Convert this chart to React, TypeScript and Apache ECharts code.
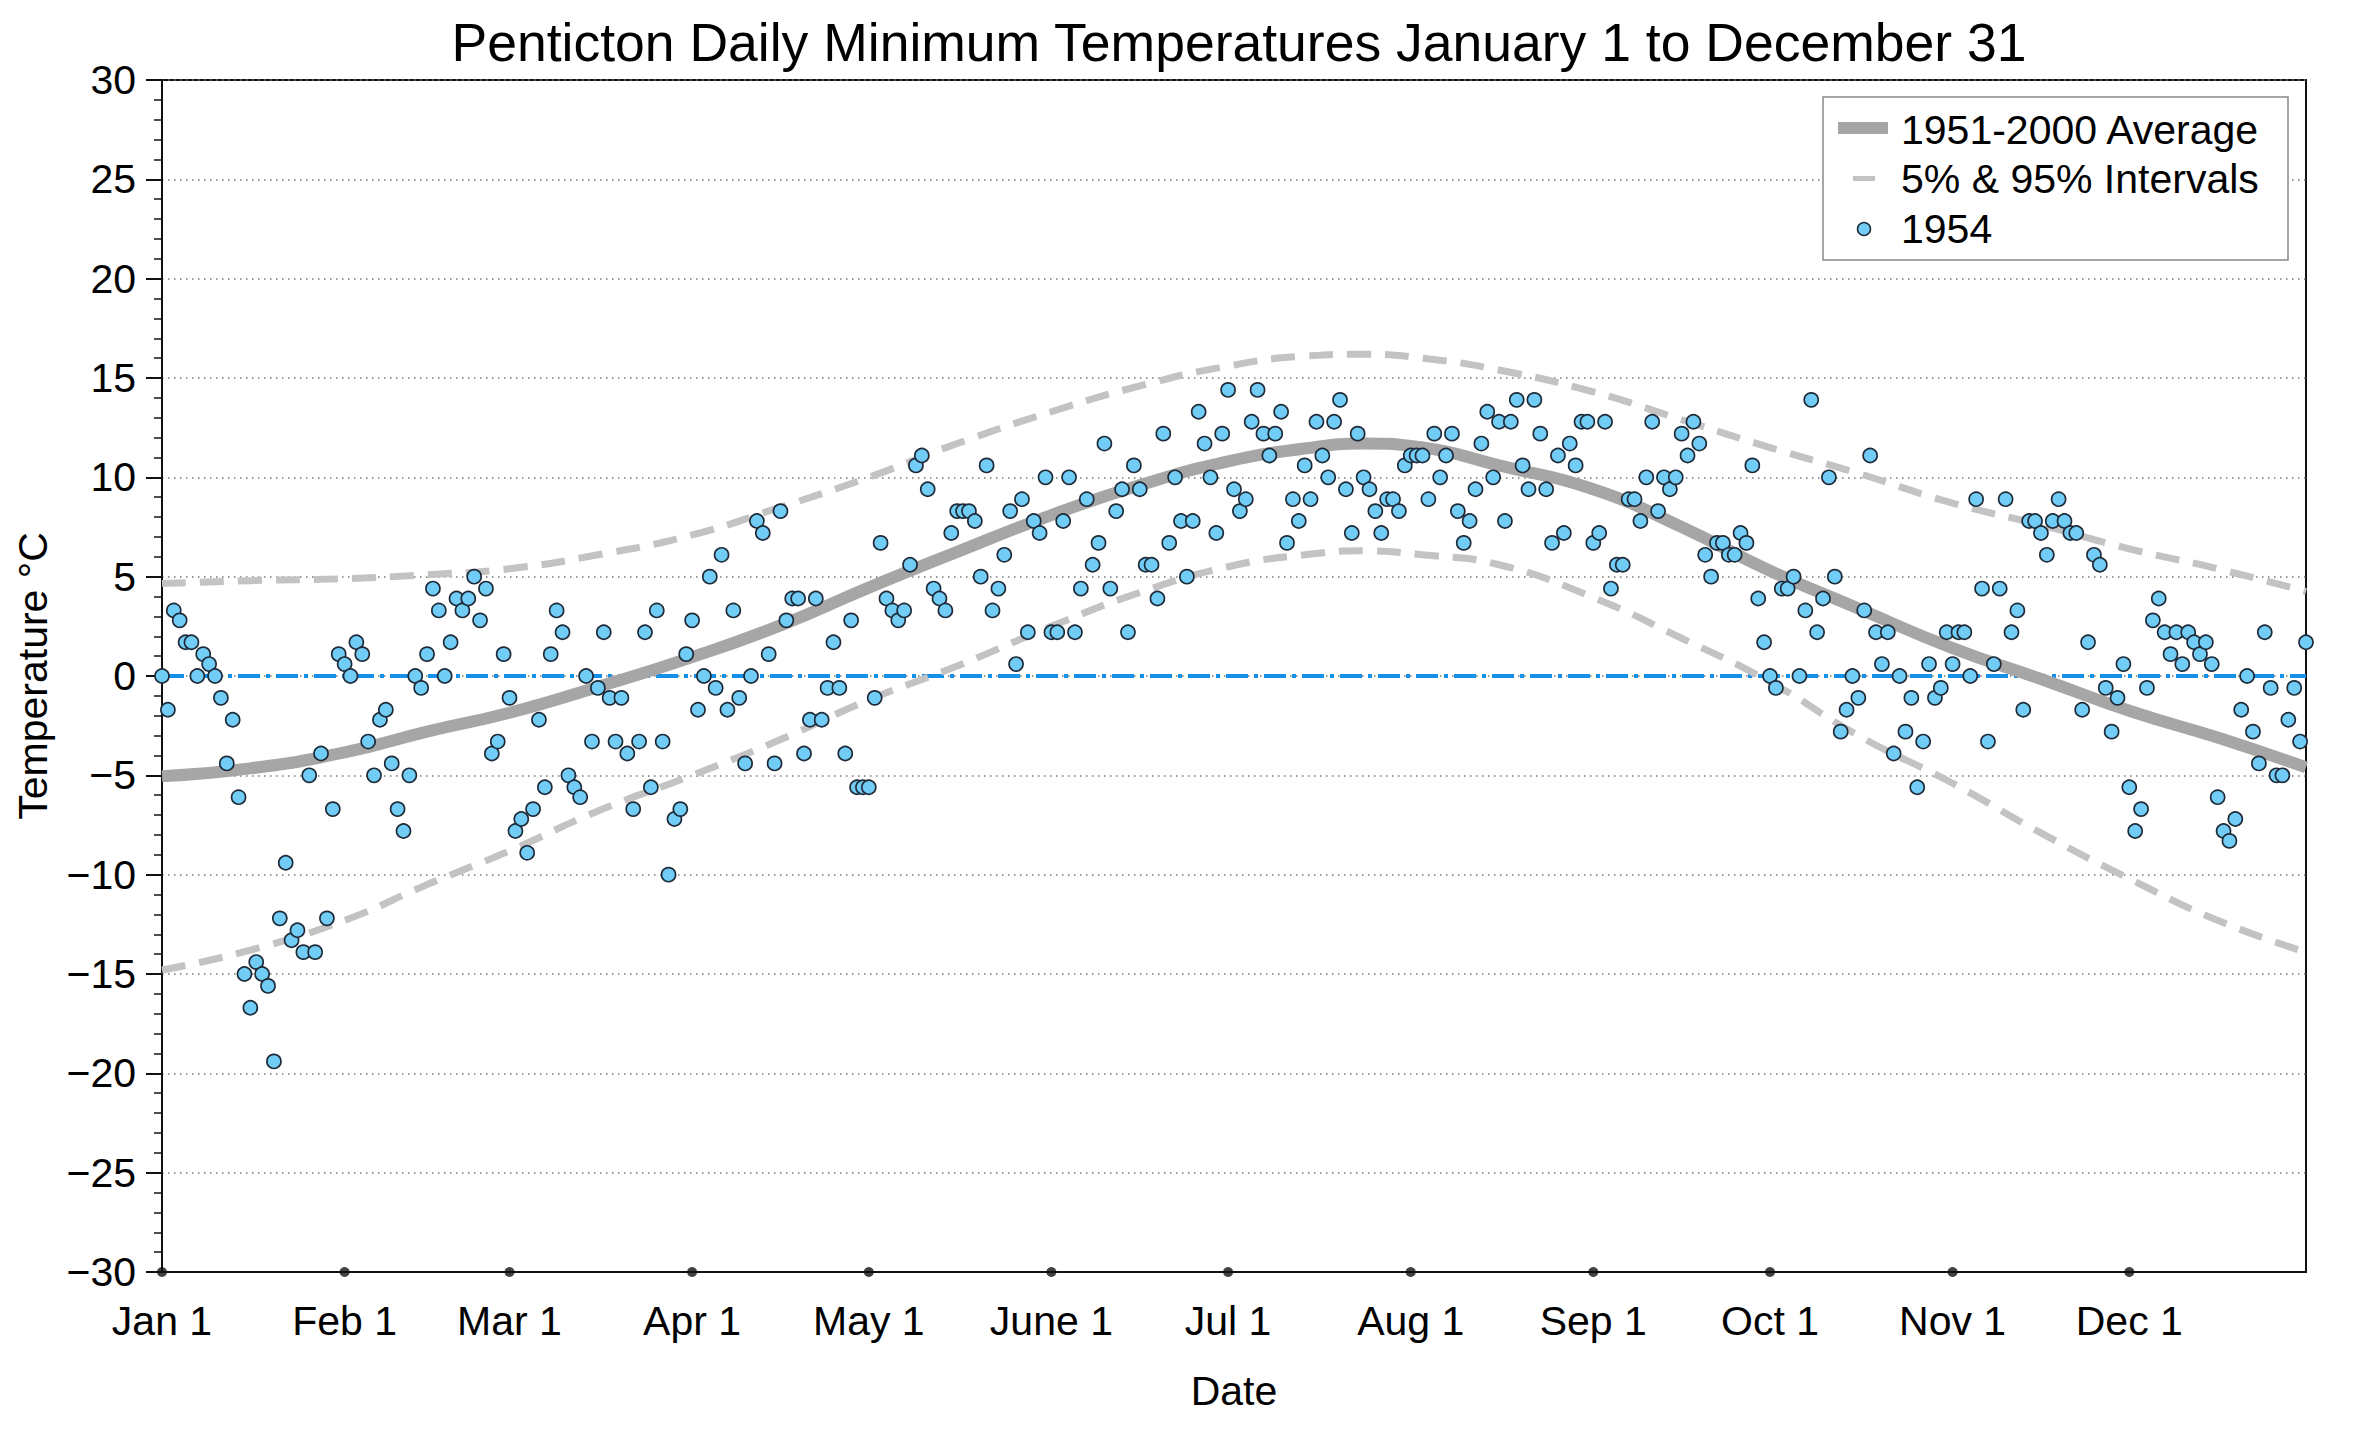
import React, { useEffect, useRef } from "react";
import * as echarts from "echarts";

// 1954 daily minimum temperatures (°C), one value per day, by month
const jan = [0, -1.7, 3.3, 2.8, 1.7, 1.7, 0, 1.1, 0.6, 0, -1.1, -4.4, -2.2, -6.1, -15, -16.7, -14.4, -15, -15.6, -19.4, -12.2, -9.4, -13.3, -12.8, -13.9, -5, -13.9, -3.9, -12.2, -6.7, 1.1];
const feb = [0.6, 0, 1.7, 1.1, -3.3, -5, -2.2, -1.7, -4.4, -6.7, -7.8, -5, 0, -0.6, 1.1, 4.4, 3.3, 0, 1.7, 3.9, 3.3, 3.9, 5.0, 2.8, 4.4, -3.9, -3.3, 1.1];
const mar = [-1.1, -7.8, -7.2, -8.9, -6.7, -2.2, -5.6, 1.1, 3.3, 2.2, -5, -5.6, -6.1, 0, -3.3, -0.6, 2.2, -1.1, -3.3, -1.1, -3.9, -6.7, -3.3, 2.2, -5.6, 3.3, -3.3, -10, -7.2, -6.7, 1.1];
const apr = [2.8, -1.7, 0, 5.0, -0.6, 6.1, -1.7, 3.3, -1.1, -4.4, 0, 7.8, 7.2, 1.1, -4.4, 8.3, 2.8, 3.9, 3.9, -3.9, -2.2, 3.9, -2.2, -0.6, 1.7, -0.6, -3.9, 2.8, -5.6, -5.6];
const may = [-5.6, -1.1, 6.7, 3.9, 3.3, 2.8, 3.3, 5.6, 10.6, 11.1, 9.4, 4.4, 3.9, 3.3, 7.2, 8.3, 8.3, 8.3, 7.8, 5.0, 10.6, 3.3, 4.4, 6.1, 8.3, 0.6, 8.9, 2.2, 7.8, 7.2, 10.0];
const jun = [2.2, 2.2, 7.8, 10.0, 2.2, 4.4, 8.9, 5.6, 6.7, 11.7, 4.4, 8.3, 9.4, 2.2, 10.6, 9.4, 5.6, 5.6, 3.9, 12.2, 6.7, 10.0, 7.8, 5.0, 7.8, 13.3, 11.7, 10.0, 7.2, 12.2];
const jul = [14.4, 9.4, 8.3, 8.9, 12.8, 14.4, 12.2, 11.1, 12.2, 13.3, 6.7, 8.9, 7.8, 10.6, 8.9, 12.8, 11.1, 10.0, 12.8, 13.9, 9.4, 7.2, 12.2, 10.0, 9.4, 8.3, 7.2, 8.9, 8.9, 8.3, 10.6];
const aug = [11.1, 11.1, 11.1, 8.9, 12.2, 10.0, 11.1, 12.2, 8.3, 6.7, 7.8, 9.4, 11.7, 13.3, 10.0, 12.8, 7.8, 12.8, 13.9, 10.6, 9.4, 13.9, 12.2, 9.4, 6.7, 11.1, 7.2, 11.7, 10.6, 12.8, 12.8];
const sep = [6.7, 7.2, 12.8, 4.4, 5.6, 5.6, 8.9, 8.9, 7.8, 10.0, 12.8, 8.3, 10.0, 9.4, 10.0, 12.2, 11.1, 12.8, 11.7, 6.1, 5.0, 6.7, 6.7, 6.1, 6.1, 7.2, 6.7, 10.6, 3.9, 1.7];
const oct = [0, -0.6, 4.4, 4.4, 5.0, 0, 3.3, 13.9, 2.2, 3.9, 10.0, 5.0, -2.8, -1.7, 0, -1.1, 3.3, 11.1, 2.2, 0.6, 2.2, -3.9, 0, -2.8, -1.1, -5.6, -3.3, 0.6, -1.1, -0.6, 2.2];
const nov = [0.6, 2.2, 2.2, 0, 8.9, 4.4, -3.3, 0.6, 4.4, 8.9, 2.2, 3.3, -1.7, 7.8, 7.8, 7.2, 6.1, 7.8, 8.9, 7.8, 7.2, 7.2, -1.7, 1.7, 6.1, 5.6, -0.6, -2.8, -1.1, 0.6];
const dec = [-5.6, -7.8, -6.7, -0.6, 2.8, 3.9, 2.2, 1.1, 2.2, 0.6, 2.2, 1.7, 1.1, 1.7, 0.6, -6.1, -7.8, -8.3, -7.2, -1.7, 0, -2.8, -4.4, 2.2, -0.6, -5, -5, -2.2, -0.6, -3.3, 1.7];

// 1951-2000 climatology, sampled about twice a month (day of year, 0 = Jan 1)
const curveDays = [0, 15, 31, 45, 59, 74, 90, 105, 120, 135, 151, 166, 181, 194, 204, 214, 227, 243, 258, 273, 288, 304, 319, 334, 349, 364];
const avgCurve = [-5.05, -4.65, -3.85, -2.8, -1.85, -0.55, 0.95, 2.55, 4.45, 6.25, 8.1, 9.6, 10.8, 11.45, 11.7, 11.5, 10.6, 9.4, 7.5, 5.3, 3.4, 1.4, -0.15, -1.75, -3.1, -4.6];
const p95Curve = [4.65, 4.8, 4.9, 5.1, 5.4, 6.1, 7.1, 8.5, 10.0, 11.7, 13.3, 14.6, 15.6, 16.1, 16.2, 16.0, 15.4, 14.3, 12.9, 11.5, 10.2, 8.7, 7.6, 6.4, 5.4, 4.25];
const p05Curve = [-14.8, -13.8, -12.3, -10.5, -8.8, -6.8, -5.0, -3.2, -1.2, 0.5, 2.5, 4.2, 5.5, 6.1, 6.3, 6.1, 5.6, 3.95, 1.9, -0.3, -3.0, -5.4, -7.9, -10.2, -12.3, -13.9];

const monthLabels = ["Jan 1", "Feb 1", "Mar 1", "Apr 1", "May 1", "June 1", "Jul 1", "Aug 1", "Sep 1", "Oct 1", "Nov 1", "Dec 1"];
const monthDays = [0, 31, 59, 90, 120, 151, 181, 212, 243, 273, 304, 334];

const fontFamily = '"Liberation Sans", Arial, Helvetica, sans-serif';
const labelSize = 41;
const dotFill = "#72cdf6";
const dotEdge = "#1e2a38";

const App = () => {
  const chartRef = useRef<HTMLDivElement>(null);

  useEffect(() => {
    const chart = echarts.init(chartRef.current, null, { renderer: "svg" });

    const daily = [jan, feb, mar, apr, may, jun, jul, aug, sep, oct, nov, dec].flat();
    const points = daily.map((v, i) => [i, v]);
    const curve = (vals: number[]) => curveDays.map((d, i) => [d, vals[i]]);

    const legendRows = [
      { label: "1951-2000 Average", y: 130 },
      { label: "5% & 95% Intervals", y: 179 },
      { label: "1954", y: 229 },
    ];

    const options = {
      animation: false,
      backgroundColor: "#fff",
      title: {
        text: "Penticton Daily Minimum Temperatures January 1 to December 31",
        left: 1234,
        top: 10,
        textAlign: "center",
        textStyle: { fontFamily, fontSize: 53.5, fontWeight: "normal", color: "#000" },
      },
      grid: {
        left: 162,
        right: 54,
        top: 80,
        bottom: 160,
        show: true,
        borderColor: "#111",
        borderWidth: 2,
        backgroundColor: "transparent",
      },
      xAxis: {
        type: "value",
        min: 0,
        max: 364,
        axisLine: { show: true, onZero: false, lineStyle: { color: "#111", width: 2 } },
        axisTick: { show: false },
        splitLine: { show: false },
        axisLabel: {
          customValues: monthDays,
          formatter: (v: number) => monthLabels[monthDays.indexOf(v)] ?? "",
          fontFamily,
          fontSize: labelSize,
          color: "#000",
          margin: 28,
        },
        name: "Date",
        nameLocation: "middle",
        nameGap: 98,
        nameTextStyle: { fontFamily, fontSize: labelSize, color: "#000" },
      },
      yAxis: {
        type: "value",
        min: -30,
        max: 30,
        interval: 5,
        axisLine: { show: true, onZero: false, lineStyle: { color: "#111", width: 2 } },
        axisTick: { show: true, length: 16, lineStyle: { color: "#111", width: 2 } },
        minorTick: { show: true, splitNumber: 5, length: 8, lineStyle: { color: "#111", width: 1.5 } },
        splitLine: { show: true, lineStyle: { color: "#777", width: 1.5, type: [1.5, 4.5] } },
        axisLabel: {
          fontFamily,
          fontSize: labelSize,
          color: "#000",
          margin: 26,
          formatter: (v: number) => (v < 0 ? "\u2212" + Math.abs(v) : String(v)),
        },
        name: "Temperature °C",
        nameLocation: "middle",
        nameGap: 109,
        nameRotate: 90,
        nameTextStyle: { fontFamily, fontSize: labelSize, color: "#000" },
      },
      series: [
        {
          name: "1951-2000 Average",
          type: "line",
          data: curve(avgCurve),
          smooth: true,
          showSymbol: false,
          silent: true,
          z: 2,
          lineStyle: { color: "#a6a6a6", width: 12 },
          markLine: {
            silent: true,
            symbol: "none",
            z: 1,
            label: { show: false },
            lineStyle: { color: "#1590e8", width: 4, type: [22, 6, 4, 6] },
            data: [{ yAxis: 0 }],
          },
        },
        {
          name: "95%",
          type: "line",
          data: curve(p95Curve),
          smooth: true,
          showSymbol: false,
          silent: true,
          z: 2,
          lineStyle: { color: "#c3c3c3", width: 7, type: [24, 14] },
        },
        {
          name: "5%",
          type: "line",
          data: curve(p05Curve),
          smooth: true,
          showSymbol: false,
          silent: true,
          z: 2,
          lineStyle: { color: "#c3c3c3", width: 7, type: [24, 14] },
        },
        {
          name: "1954",
          type: "scatter",
          data: points,
          symbol: "circle",
          symbolSize: 14,
          clip: false,
          z: 3,
          itemStyle: { color: dotFill, borderColor: dotEdge, borderWidth: 1.7, opacity: 1 },
        },
        {
          name: "month ticks",
          type: "scatter",
          data: monthDays.map((d) => [d, -30]),
          symbol: "circle",
          symbolSize: 10,
          clip: false,
          silent: true,
          z: 4,
          itemStyle: { color: "#111" },
        },
      ],
      graphic: [
        {
          type: "rect",
          shape: { x: 1823, y: 97, width: 465, height: 163 },
          style: { fill: "#fff", stroke: "#888", lineWidth: 1.5 },
          z: 100,
        },
        {
          type: "rect",
          shape: { x: 1838, y: 122, width: 50, height: 12 },
          style: { fill: "#a6a6a6" },
          z: 101,
        },
        {
          type: "rect",
          shape: { x: 1853, y: 176, width: 22, height: 5 },
          style: { fill: "#c3c3c3" },
          z: 101,
        },
        {
          type: "circle",
          shape: { cx: 1864, cy: 229, r: 6.5 },
          style: { fill: dotFill, stroke: dotEdge, lineWidth: 1.5 },
          z: 101,
        },
        ...legendRows.map((r) => ({
          type: "text",
          x: 1901,
          y: r.y,
          z: 101,
          style: {
            text: r.label,
            fontFamily,
            fontSize: labelSize,
            fill: "#000",
            verticalAlign: "middle",
          },
        })),
      ],
    };

    chart.setOption(options);

    return () => chart.dispose();
  }, []);

  return (
    <div
      ref={chartRef}
      style={{ position: "absolute", left: 0, top: 0, width: "2360px", height: "1432px" }}
    />
  );
};

export default App;
